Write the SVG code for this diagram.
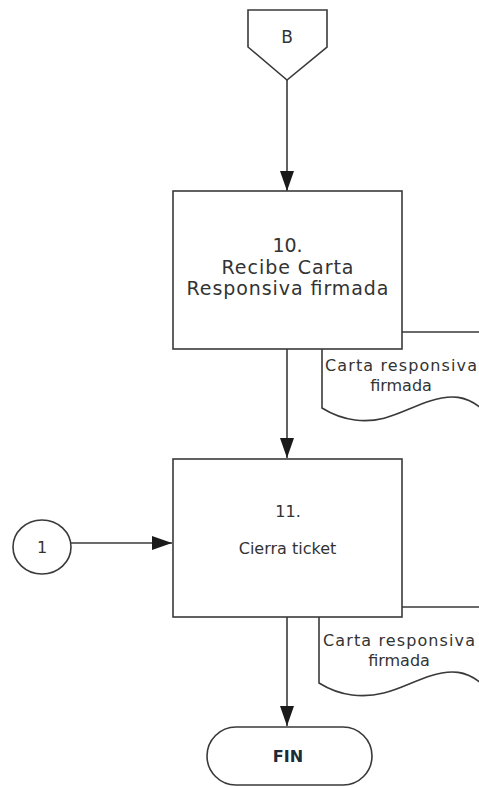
<svg xmlns="http://www.w3.org/2000/svg" width="479" height="787" viewBox="0 0 479 787">
  <style>
    .shape { fill: #ffffff; stroke: #3a3a3a; stroke-width: 1.6; }
    .edge { fill: none; stroke: #3a3a3a; stroke-width: 1.6; }
    .lbl { font-family: "DejaVu Sans", "Liberation Sans", sans-serif; fill: #333333; text-anchor: middle; }
    .big { font-size: 19px; }
    .mid { font-size: 16px; }
    .doc { font-size: 16px; }
    .end { font-family: "DejaVu Sans", "Liberation Sans", sans-serif; font-size: 16px; font-weight: bold; fill: #1c2b3a; text-anchor: middle; }
  </style>
  <defs>
    <marker id="arrow" markerUnits="userSpaceOnUse" markerWidth="20" markerHeight="14" refX="20" refY="7" orient="auto">
      <path d="M0,0 L20,7 L0,14 z" fill="#1a1a1a"/>
    </marker>
  </defs>
  <rect width="479" height="787" fill="#ffffff"/>

  <!-- connectors -->
  <g id="connectors">
    <line class="edge" x1="287" y1="80" x2="287" y2="191" marker-end="url(#arrow)"/>
    <line class="edge" x1="287" y1="349" x2="287" y2="458" marker-end="url(#arrow)"/>
    <line class="edge" x1="71" y1="543" x2="172" y2="543" marker-end="url(#arrow)"/>
    <line class="edge" x1="287" y1="617" x2="287" y2="726" marker-end="url(#arrow)"/>
  </g>

  <!-- off-page connector B -->
  <g id="offpage-b">
    <polygon class="shape" points="248,10 327,10 327,47 287,80 248,47"/>
    <text class="lbl" x="287" y="43" font-size="17">B</text>
  </g>

  <!-- document output of step 10 -->
  <g id="doc-10">
    <path class="shape" d="M322,332 H481 V408 C466,396 452,394 430,401 C405,409 385,424 355,420 C340,418 330,413 322,408 Z"/>
    <text class="lbl doc" x="401" y="371" textLength="152" lengthAdjust="spacing">Carta responsiva</text>
    <text class="lbl doc" x="401" y="391">firmada</text>
  </g>

  <!-- step 10 -->
  <g id="step-10">
    <rect class="shape" x="173" y="191" width="229" height="158"/>
    <text class="lbl big" x="287.5" y="252">10.</text>
    <text class="lbl big" x="287.5" y="274" textLength="132" lengthAdjust="spacing">Recibe Carta</text>
    <text class="lbl big" x="287.5" y="295" textLength="202" lengthAdjust="spacing">Responsiva firmada</text>
  </g>

  <!-- document output of step 11 -->
  <g id="doc-11">
    <path class="shape" d="M319,607 H481 V683 C466,671 452,669 430,676 C405,684 385,699 352,695 C337,693 327,688 319,683 Z"/>
    <text class="lbl doc" x="399" y="646" textLength="152" lengthAdjust="spacing">Carta responsiva</text>
    <text class="lbl doc" x="399" y="666">firmada</text>
  </g>

  <!-- step 11 -->
  <g id="step-11">
    <rect class="shape" x="173" y="459" width="229" height="158"/>
    <text class="lbl mid" x="288" y="517">11.</text>
    <text class="lbl mid" x="287.5" y="554">Cierra ticket</text>
  </g>

  <!-- on-page connector 1 -->
  <g id="connector-1">
    <ellipse class="shape" cx="42" cy="547" rx="29" ry="27"/>
    <text class="lbl mid" x="42" y="553">1</text>
  </g>

  <!-- terminator -->
  <g id="fin">
    <rect class="shape" x="207" y="727" width="165" height="58" rx="29" ry="29"/>
    <text class="end" x="288" y="762">FIN</text>
  </g>
</svg>
